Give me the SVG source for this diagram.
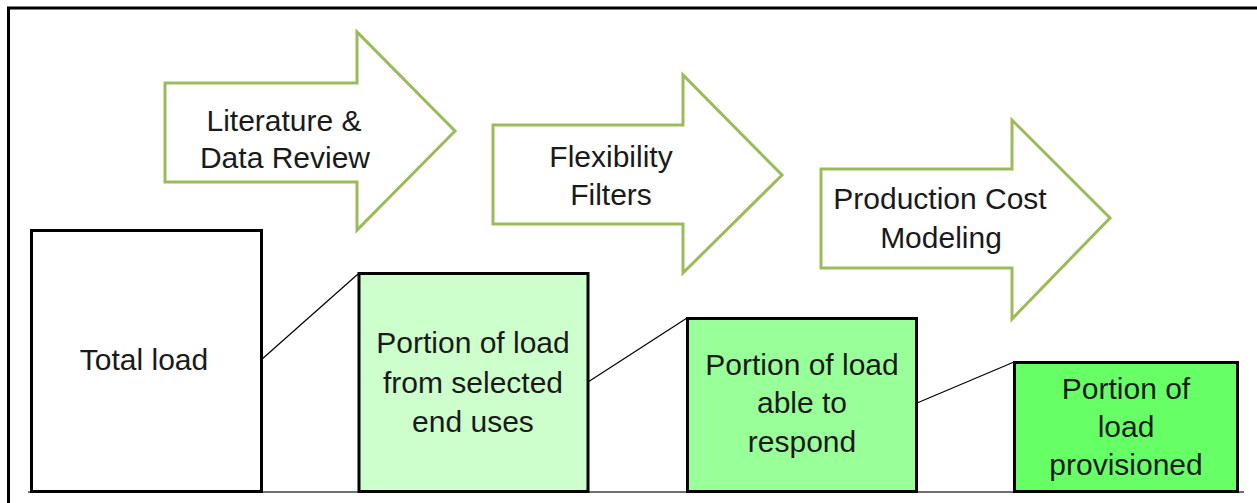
<svg xmlns="http://www.w3.org/2000/svg" width="1257" height="503" viewBox="0 0 1257 503">
<style>
.arrow{fill:#ffffff;stroke:#9BBB59;stroke-width:3;stroke-linejoin:miter}
.box{stroke:#000000;stroke-width:3}
.lbl{font-family:"Liberation Sans",Arial,sans-serif;font-size:30px;fill:#1a1a1a;text-anchor:middle}
.conn{stroke:#000000;stroke-width:1.2;fill:none}
</style>
<rect width="1257" height="503" fill="#ffffff"/>
<g id="frame">
<path d="M8.5,503 V8 H1257" fill="none" stroke="#000000" stroke-width="3"/>
</g>
<g id="baseline">
<line x1="28" y1="492" x2="1244" y2="492" stroke="#707070" stroke-width="2"/>
</g>
<g id="arrow-literature">
<polygon class="arrow" points="165,83 357,83 357,32 455,131 357,230 357,182 165,182"/>
<text class="lbl" x="284" y="131">Literature &amp;</text>
<text class="lbl" x="285" y="168">Data Review</text>
</g>
<g id="arrow-flexibility">
<polygon class="arrow" points="493,125 683,125 683,75 782,175 683,273 683,224 493,224"/>
<text class="lbl" x="611" y="167">Flexibility</text>
<text class="lbl" x="611" y="205">Filters</text>
</g>
<g id="arrow-production">
<polygon class="arrow" points="821,169 1012,169 1012,120 1110,218 1012,319 1012,268 821,268"/>
<text class="lbl" x="940" y="209">Production Cost</text>
<text class="lbl" x="941" y="248">Modeling</text>
</g>
<g id="connectors">
<line class="conn" x1="261" y1="360" x2="358" y2="274"/>
<line class="conn" x1="588" y1="382" x2="687" y2="318"/>
<line class="conn" x1="917" y1="403" x2="1014" y2="362"/>
</g>
<g id="box-total">
<rect class="box" x="31.5" y="230.5" width="230" height="261" fill="#ffffff"/>
<text class="lbl" x="144" y="370">Total load</text>
</g>
<g id="box-selected">
<rect class="box" x="359" y="273.5" width="229" height="218" fill="#CCFFCC"/>
<text class="lbl" x="473" y="353">Portion of load</text>
<text class="lbl" x="473" y="393">from selected</text>
<text class="lbl" x="473" y="432">end uses</text>
</g>
<g id="box-respond">
<rect class="box" x="687.5" y="318.5" width="229" height="173" fill="#99FF99"/>
<text class="lbl" x="802" y="375">Portion of load</text>
<text class="lbl" x="802" y="413">able to</text>
<text class="lbl" x="802" y="452">respond</text>
</g>
<g id="box-provisioned">
<rect class="box" x="1014.5" y="362.5" width="223" height="129" fill="#66FF66"/>
<text class="lbl" x="1126" y="399">Portion of</text>
<text class="lbl" x="1126" y="437">load</text>
<text class="lbl" x="1126" y="475">provisioned</text>
</g>
</svg>
